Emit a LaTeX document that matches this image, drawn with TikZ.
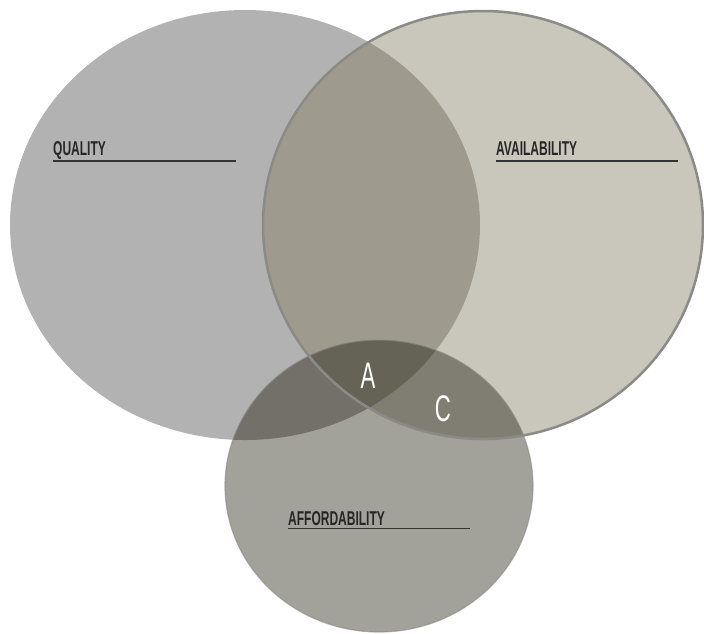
\documentclass[tikz,border=0pt]{standalone}
\usepackage{fontspec}
\usepackage{tikz}
\usetikzlibrary{positioning}
\newfontfamily\labelfont[FakeStretch=0.6]{Liberation Sans}
\newfontfamily\letterfont[FakeStretch=0.6]{Liberation Sans}
\definecolor{qualgray}{HTML}{B2B2B2}
\definecolor{availbeige}{HTML}{C9C7BB}
\definecolor{qualavail}{HTML}{9E9B8E}
\definecolor{affgray}{HTML}{A2A19A}
\definecolor{qualaff}{HTML}{727069}
\definecolor{availaff}{HTML}{807E73}
\definecolor{allthree}{HTML}{656356}
\definecolor{rimgray}{HTML}{8A8A87}

\tikzset{
  setlabel/.style={anchor=base west, inner sep=0pt, font=\labelfont\bfseries\fontsize{20}{20}\selectfont, text=black!85},
  letter/.style={anchor=base, inner sep=0pt, text=white, font=\letterfont\fontsize{37}{37}\selectfont},
  underline/.style={line width=1.4pt, black!80}
}

\begin{document}
\begin{tikzpicture}[x=1pt, y=-1pt]
            \useasboundingbox (0,0) rectangle (704,633);
            \def\qualset{(245,225) ellipse [x radius=235, y radius=215]}
            \def\availset{(483,225) ellipse [x radius=220, y radius=214]}
            \def\affset{(379,486) ellipse [x radius=154, y radius=146]}

            % Sets
            \fill[qualgray] \qualset;
            \fill[availbeige] \availset;
            \begin{scope}
                \clip \qualset;
                \fill[qualavail] \availset;
            \end{scope}
            \fill[affgray] \affset;
            \begin{scope}
                \clip \affset;
                \fill[qualaff] \qualset;
                \fill[availaff] \availset;
                \clip \qualset;
                \fill[allthree] \availset;
            \end{scope}

            % Rims
            \draw[rimgray, line width=2.5pt] \availset;
            \draw[rimgray, line width=1.2pt, opacity=0.6] \affset;

            % Labels
            \node[setlabel] (quality) at (53,155) {QUALITY};
            \coordinate (qualityend) at (236,161);
            \draw[underline] (quality.base west |- qualityend) -- (qualityend);

            \node[setlabel] (availability) at (496,155) {AVAILABILITY};
            \coordinate (availabilityend) at (678,161);
            \draw[underline] (availability.base west |- availabilityend) -- (availabilityend);

            \node[setlabel] (affordability) at (288,525) {AFFORDABILITY};
            \coordinate (affordabilityend) at (470,528.5);
            \draw[underline] (affordability.base west |- affordabilityend) -- (affordabilityend);

            % Intersections
            \node[letter] (lettera) at (368,388) {A};
            \node[letter] (letterc) at (443,421) {C};
        \end{tikzpicture}
\end{document}
